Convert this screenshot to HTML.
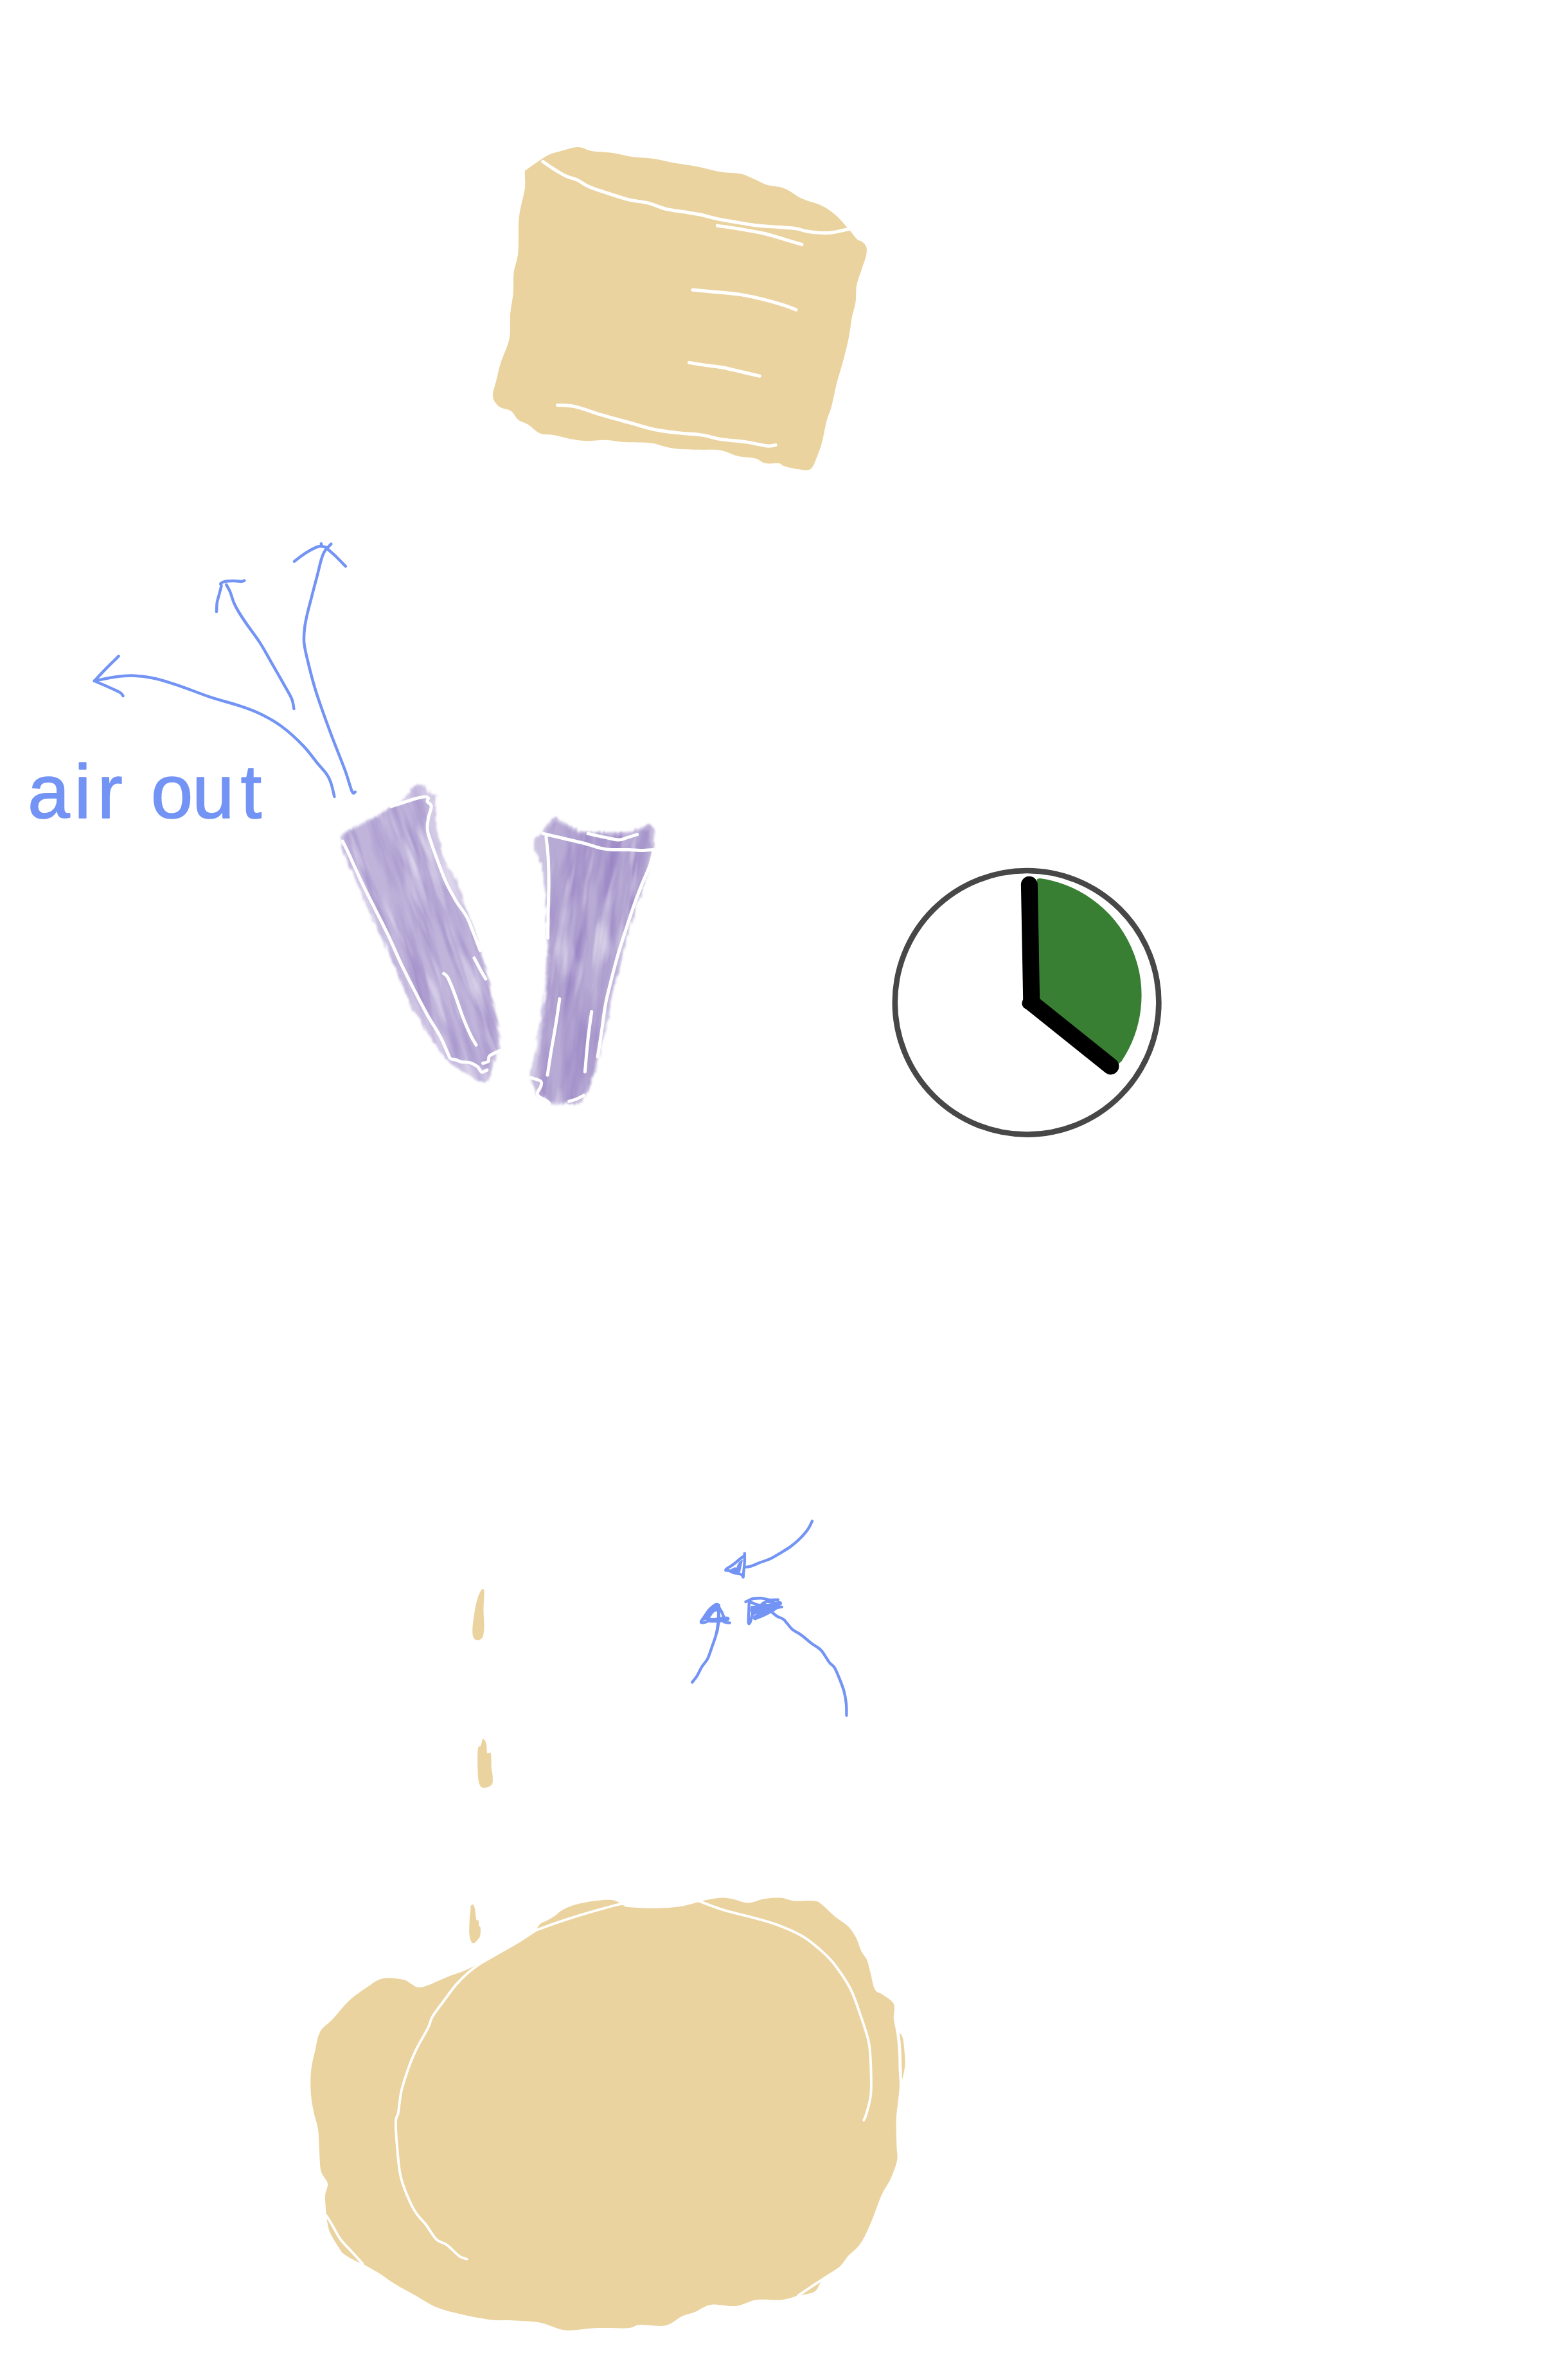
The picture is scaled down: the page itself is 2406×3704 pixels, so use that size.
<!DOCTYPE html>
<html><head><meta charset="utf-8"><title>air out</title>
<style>
html,body{margin:0;padding:0;background:#fff;}
body{width:2406px;height:3704px;overflow:hidden;}
svg{display:block;}
</style></head><body>
<svg width="2406" height="3704" viewBox="0 0 2406 3704">
<defs>
<filter id="wcL" x="-15%" y="-10%" width="130%" height="120%" color-interpolation-filters="sRGB">
<feTurbulence type="fractalNoise" baseFrequency="0.045 0.007" numOctaves="3" seed="4" result="n"/>
<feTurbulence type="fractalNoise" baseFrequency="0.35 0.05" numOctaves="2" seed="9" result="n2"/>
<feDisplacementMap in="SourceGraphic" in2="n2" scale="9" xChannelSelector="R" yChannelSelector="G" result="d"/>
<feGaussianBlur in="d" stdDeviation="1.6" result="b"/>
<feColorMatrix in="n" type="matrix" values="0 0 0 0 0.58  0 0 0 0 0.5  0 0 0 0 0.76  1.5 0 0 0 -0.55" result="dk"/>
<feComposite in="dk" in2="b" operator="in" result="dk2"/>
<feColorMatrix in="n" type="matrix" values="0 0 0 0 1  0 0 0 0 1  0 0 0 0 1  0 -1.8 0 0 0.85" result="lt"/>
<feComposite in="lt" in2="b" operator="in" result="lt2"/>
<feMerge><feMergeNode in="b"/><feMergeNode in="dk2"/><feMergeNode in="lt2"/></feMerge>
</filter>
<filter id="wcR" x="-15%" y="-10%" width="130%" height="120%" color-interpolation-filters="sRGB">
<feTurbulence type="fractalNoise" baseFrequency="0.045 0.007" numOctaves="3" seed="11" result="n"/>
<feTurbulence type="fractalNoise" baseFrequency="0.35 0.05" numOctaves="2" seed="5" result="n2"/>
<feDisplacementMap in="SourceGraphic" in2="n2" scale="9" xChannelSelector="R" yChannelSelector="G" result="d"/>
<feGaussianBlur in="d" stdDeviation="1.6" result="b"/>
<feColorMatrix in="n" type="matrix" values="0 0 0 0 0.56  0 0 0 0 0.47  0 0 0 0 0.75  1.5 0 0 0 -0.55" result="dk"/>
<feComposite in="dk" in2="b" operator="in" result="dk2"/>
<feColorMatrix in="n" type="matrix" values="0 0 0 0 1  0 0 0 0 1  0 0 0 0 1  0 -1.8 0 0 0.85" result="lt"/>
<feComposite in="lt" in2="b" operator="in" result="lt2"/>
<feMerge><feMergeNode in="b"/><feMergeNode in="dk2"/><feMergeNode in="lt2"/></feMerge>
</filter>
</defs>
<path d="M820.0,263.8 C823.2,261.1 830.2,256.2 835.8,252.4 C841.5,248.7 847.9,244.0 853.9,241.1 C860.0,238.3 864.5,237.3 872.1,235.2 C879.6,233.2 890.9,228.9 899.2,228.9 C907.5,228.9 912.8,233.7 921.9,235.2 C930.9,236.7 943.0,236.4 953.6,238.0 C964.1,239.5 974.7,242.8 985.3,244.3 C995.8,245.8 1006.4,245.5 1016.9,247.0 C1027.5,248.5 1037.3,251.3 1048.6,253.4 C1060.0,255.4 1072.8,256.9 1084.9,259.2 C1096.9,261.6 1109.8,265.5 1121.1,267.4 C1132.4,269.3 1143.7,268.5 1152.8,270.6 C1161.8,272.6 1168.6,276.7 1175.4,279.6 C1182.2,282.5 1186.0,285.5 1193.5,287.8 C1201.1,290.0 1211.6,289.6 1220.7,293.2 C1229.8,296.7 1238.1,304.5 1247.9,309.0 C1257.7,313.6 1270.5,315.8 1279.6,320.4 C1288.6,324.9 1295.0,329.8 1302.2,336.2 C1309.4,342.6 1317.3,352.8 1322.6,358.8 C1327.9,364.9 1330.9,369.6 1333.9,372.4 C1336.9,375.2 1338.3,373.6 1340.7,375.6 C1343.1,377.6 1347.3,380.7 1348.4,384.7 C1349.5,388.7 1348.8,393.7 1347.5,399.6 C1346.2,405.5 1343.1,412.4 1340.7,420.0 C1338.3,427.5 1334.5,436.6 1333.0,444.9 C1331.5,453.2 1332.8,461.5 1331.6,469.8 C1330.4,478.1 1327.6,484.9 1325.7,494.7 C1323.9,504.5 1322.7,516.9 1320.3,528.6 C1317.9,540.3 1314.3,553.5 1311.3,564.9 C1308.2,576.2 1305.1,585.2 1302.2,596.6 C1299.3,607.9 1296.7,623.0 1294.0,632.8 C1291.4,642.6 1288.8,646.4 1286.4,655.4 C1283.9,664.5 1281.8,678.4 1279.6,687.1 C1277.3,695.8 1275.8,700.3 1272.8,707.5 C1269.7,714.7 1266.7,726.4 1261.4,730.1 C1256.2,733.9 1247.9,730.9 1241.1,730.1 C1234.3,729.4 1225.6,727.1 1220.7,725.6 C1215.8,724.1 1216.5,721.8 1211.6,721.1 C1206.7,720.3 1197.3,722.4 1191.3,721.1 C1185.2,719.8 1182.6,715.3 1175.4,713.4 C1168.3,711.5 1157.3,711.9 1148.3,709.8 C1139.2,707.6 1130.9,702.4 1121.1,700.7 C1111.3,699.0 1100.7,700.2 1089.4,699.8 C1078.1,699.4 1063.0,699.4 1053.2,698.4 C1043.4,697.5 1037.3,695.4 1030.5,693.9 C1023.7,692.4 1022.2,690.4 1012.4,689.4 C1002.6,688.4 983.0,688.8 971.7,688.0 C960.3,687.3 954.3,685.2 944.5,684.9 C934.7,684.5 921.9,686.4 912.8,686.2 C903.8,686.0 898.5,685.0 890.2,683.5 C881.9,682.0 871.3,678.7 863.0,677.2 C854.7,675.6 847.2,677.2 840.4,674.4 C833.6,671.7 827.9,664.4 822.3,660.9 C816.6,657.3 810.9,656.7 806.4,653.2 C801.9,649.6 800.0,643.0 795.1,639.6 C790.2,636.2 781.7,636.6 777.0,632.8 C772.3,629.0 767.8,623.7 767.0,616.9 C766.3,610.1 770.4,600.7 772.4,592.0 C774.5,583.4 775.8,575.8 779.2,564.9 C782.6,553.9 790.3,539.2 792.8,526.4 C795.3,513.5 793.2,499.6 794.2,487.9 C795.2,476.2 797.8,466.8 798.7,456.2 C799.6,445.6 798.3,435.1 799.6,424.5 C800.9,413.9 805.0,407.1 806.4,392.8 C807.8,378.5 806.0,355.1 807.8,338.5 C809.5,321.9 815.3,304.9 816.8,293.2 C818.3,281.5 816.3,273.2 816.8,268.3 C817.3,263.4 816.8,266.4 820.0,263.8Z" fill="#EBD39F"/>
<g fill="none" stroke="#fff" stroke-width="5.2" stroke-linecap="round" stroke-linejoin="round">
<path d="M844.9,251.5 C847.9,253.6 857.0,260.0 863.0,263.8 C869.0,267.5 875.1,271.4 881.1,274.2 C887.1,277.0 893.2,277.7 899.2,280.5 C905.3,283.3 908.3,287.2 917.3,290.9 C926.4,294.7 943.0,299.8 953.6,303.2 C964.1,306.6 971.7,309.2 980.7,311.3 C989.8,313.4 998.8,313.6 1007.9,315.8 C1016.9,318.1 1026.0,322.6 1035.1,324.9 C1044.1,327.2 1053.2,327.9 1062.2,329.4 C1071.3,330.9 1080.3,332.1 1089.4,333.9 C1098.4,335.8 1106.7,338.7 1116.6,340.7 C1126.4,342.8 1137.7,344.4 1148.3,346.2 C1158.8,347.9 1169.4,349.9 1179.9,351.2 C1190.5,352.4 1201.8,352.7 1211.6,353.4 C1221.5,354.2 1231.3,354.5 1238.8,355.7 C1246.4,356.8 1248.6,359.1 1256.9,360.2 C1265.2,361.3 1278.1,363.1 1288.6,362.5 C1299.2,361.9 1315.0,357.6 1320.3,356.6"/>
<path d="M1116.6,351.2 C1122.6,352.1 1140.7,354.5 1152.8,356.6 C1164.9,358.6 1177.7,360.7 1189.0,363.4 C1200.3,366.0 1210.9,369.6 1220.7,372.4 C1230.5,375.3 1243.3,379.2 1247.9,380.6"/>
<path d="M1078.1,451.2 C1083.0,451.7 1095.1,452.7 1107.5,453.9 C1120.0,455.1 1139.2,456.4 1152.8,458.5 C1166.4,460.5 1177.7,463.4 1189.0,466.2 C1200.3,468.9 1212.4,472.6 1220.7,475.2 C1229.0,477.9 1235.8,480.9 1238.8,482.0"/>
<path d="M1072.6,564.4 C1076.9,565.1 1089.6,567.2 1098.4,568.5 C1107.3,569.8 1116.6,570.4 1125.6,572.1 C1134.7,573.8 1143.3,576.3 1152.8,578.4 C1162.2,580.6 1177.3,584.1 1182.2,585.2"/>
<path d="M867.5,630.5 C872.1,630.9 883.4,630.3 894.7,632.8 C906.0,635.3 921.1,641.2 935.4,645.5 C949.8,649.7 967.1,654.4 980.7,658.1 C994.3,661.9 1004.9,665.5 1016.9,668.1 C1029.0,670.7 1040.3,672.0 1053.2,673.5 C1066.0,675.0 1082.6,675.5 1093.9,677.2 C1105.2,678.8 1109.8,681.7 1121.1,683.5 C1132.4,685.3 1149.8,686.3 1161.8,688.0 C1173.9,689.8 1186.0,693.2 1193.5,693.9 C1201.1,694.7 1204.9,692.8 1207.1,692.5"/>
</g>
<g fill="none" stroke="#7394F4" stroke-width="4.5" stroke-linecap="round" stroke-linejoin="round">
<path d="M520.4,1239.8 C519.6,1236.6 517.5,1226.1 515.6,1220.4 C513.7,1214.8 512.9,1211.5 509.1,1205.9 C505.3,1200.2 499.1,1194.0 492.9,1186.5 C486.8,1178.9 480.8,1169.8 471.9,1160.6 C463.0,1151.4 450.4,1139.6 439.6,1131.5 C428.8,1123.4 418.0,1117.5 407.2,1112.1 C396.5,1106.7 388.4,1103.7 374.9,1099.2 C361.4,1094.6 342.6,1090.0 326.4,1084.6 C310.2,1079.2 292.4,1071.7 277.9,1066.8 C263.3,1062.0 250.9,1058.0 239.1,1055.5 C227.2,1053.0 216.4,1052.0 206.7,1051.6 C197.0,1051.2 190.8,1051.9 180.9,1053.2 C170.9,1054.6 152.6,1058.6 146.9,1059.7"/>
<path d="M184.7,1021.2 C181.4,1024.5 171.0,1034.5 164.7,1040.9 C158.4,1047.4 149.9,1056.6 146.9,1059.7"/>
<path d="M146.9,1059.7 C151.5,1061.7 167.6,1068.6 174.4,1071.7 C181.1,1074.7 184.5,1076.3 187.3,1078.1 C190.2,1080.0 190.8,1082.2 191.5,1083.0"/>
<path d="M457.4,1103.0 C456.8,1100.5 456.6,1093.9 454.1,1087.8 C451.7,1081.8 447.9,1076.0 442.8,1066.8 C437.7,1057.7 429.8,1044.0 423.4,1032.9 C417.0,1021.7 410.9,1010.1 404.3,999.9 C397.8,989.6 389.6,979.5 384.0,971.4 C378.4,963.3 374.0,956.6 370.7,951.0 C367.4,945.4 366.0,942.8 363.9,937.8 C361.8,932.8 360.0,925.6 358.1,921.0 C356.1,916.3 353.2,911.8 352.3,910.0"/>
<path d="M337.0,952.0 C337.1,949.6 337.1,942.4 337.8,937.8 C338.6,933.1 340.2,928.6 341.3,924.2 C342.4,919.8 344.1,914.2 344.5,911.6 C344.9,908.9 342.4,909.5 343.4,908.3 C344.4,907.2 347.0,905.6 350.5,904.9 C353.9,904.2 359.7,904.1 363.9,904.1 C368.1,904.1 372.9,905.0 375.7,904.9 C378.4,904.8 379.6,903.8 380.4,903.6"/>
<path d="M552.8,1232.4 C552.0,1232.3 550.6,1237.5 547.9,1231.8 C545.2,1226.0 542.3,1213.2 536.6,1197.8 C531.0,1182.4 521.5,1160.1 514.0,1139.6 C506.4,1119.1 497.3,1093.8 491.3,1074.9 C485.4,1056.0 481.4,1038.9 478.4,1026.4 C475.4,1013.9 473.9,1008.2 473.2,999.9 C472.5,991.5 473.3,983.8 474.2,976.3 C475.1,968.7 476.6,962.4 478.4,954.6 C480.2,946.8 482.4,938.9 484.9,929.4 C487.3,919.8 490.7,907.2 493.3,897.3 C495.8,887.5 498.2,876.8 500.1,870.5 C501.9,864.2 502.6,862.6 504.3,859.5 C505.9,856.4 508.3,854.2 510.1,852.1 C511.9,849.9 514.4,847.5 515.3,846.6"/>
<path d="M458.0,873.7 C460.8,871.6 469.2,864.8 474.8,861.1 C480.4,857.5 487.6,853.8 491.7,851.9 C495.7,850.1 496.6,849.9 499.3,849.9 C502.0,849.9 506.3,851.6 507.7,851.9"/>
<path d="M507.7,852.7 C510.1,854.8 517.0,860.6 522.1,865.3 C527.1,870.1 535.3,878.7 537.9,881.4"/>
<path d="M499.8,846.1 L501.0,850.3"/>
</g>
<text x="42.9 115.6 151.5 205 234.8 299 374.6" y="1273" font-family="'Liberation Sans', sans-serif" font-size="118" fill="#7394F4" stroke="#7394F4" stroke-width="1.6" stroke-linejoin="round">air out</text>
<g transform="rotate(-18.6)" filter="url(#wcL)">
<path d="M93.7,1399.6 C100.2,1396.6 113.3,1396.2 124.3,1394.4 C135.2,1392.5 147.2,1391.0 159.5,1388.5 C171.8,1386.0 189.6,1382.4 198.0,1379.3 C206.4,1376.2 204.5,1372.3 210.0,1370.1 C215.6,1367.9 226.6,1364.6 231.3,1366.1 C235.9,1367.7 235.5,1375.7 237.9,1379.4 C240.3,1383.2 245.1,1384.4 245.8,1388.8 C246.6,1393.1 244.4,1398.6 242.5,1405.4 C240.6,1412.1 236.3,1420.3 234.4,1429.2 C232.5,1438.2 231.9,1447.6 231.0,1459.1 C230.1,1470.6 227.9,1486.9 228.9,1498.3 C229.9,1509.7 235.7,1517.6 236.8,1527.6 C237.9,1537.5 235.2,1547.7 235.4,1558.1 C235.6,1568.5 237.6,1578.8 237.9,1590.0 C238.2,1601.2 237.8,1611.4 237.2,1625.2 C236.6,1639.0 235.4,1657.9 234.4,1673.0 C233.3,1688.2 232.5,1701.2 230.9,1716.2 C229.4,1731.2 227.3,1750.1 225.2,1763.0 C223.0,1775.9 220.8,1787.4 218.1,1793.9 C215.4,1800.3 212.4,1797.5 208.8,1801.8 C205.1,1806.1 200.2,1814.1 196.1,1819.7 C192.0,1825.3 188.2,1833.3 184.1,1835.6 C180.0,1837.9 176.2,1837.0 171.5,1833.6 C166.7,1830.1 161.7,1822.2 155.6,1814.9 C149.5,1807.7 140.7,1801.1 135.1,1790.3 C129.5,1779.6 126.3,1765.9 121.9,1750.4 C117.5,1734.9 111.8,1716.7 108.8,1697.2 C105.7,1677.7 105.4,1652.5 103.6,1633.5 C101.9,1614.4 100.4,1601.3 98.5,1583.0 C96.5,1564.6 93.8,1541.9 92.0,1523.2 C90.2,1504.4 88.8,1486.6 87.5,1470.7 C86.2,1454.7 84.7,1437.2 84.3,1427.5 C83.9,1417.7 83.4,1416.8 85.0,1412.2 C86.6,1407.6 87.1,1402.6 93.7,1399.6Z" fill="#C0B4DB" fill-opacity="0.7"/>
<path d="M93.3,1403.9 C100.7,1397.5 121.1,1398.7 134.9,1395.7 C148.6,1392.8 162.6,1388.1 175.8,1386.2 C188.9,1384.4 204.3,1384.2 214.0,1384.7 C223.6,1385.1 230.1,1386.1 233.5,1389.1 C237.0,1392.1 236.0,1397.3 234.5,1402.7 C232.9,1408.1 226.8,1415.2 224.2,1421.4 C221.6,1427.5 219.6,1431.7 218.8,1439.5 C217.9,1447.3 219.0,1456.9 219.0,1468.4 C219.0,1479.8 218.1,1495.4 218.9,1508.2 C219.8,1521.1 222.2,1533.7 224.1,1545.5 C226.1,1557.2 229.0,1567.1 230.7,1578.7 C232.3,1590.3 233.4,1602.5 233.9,1615.2 C234.4,1628.0 234.4,1641.2 233.8,1655.1 C233.2,1668.9 231.6,1683.9 230.3,1698.2 C229.0,1712.6 227.8,1727.7 225.9,1741.1 C224.0,1754.5 221.1,1769.4 218.8,1778.6 C216.4,1787.8 215.3,1792.2 211.8,1796.2 C208.2,1800.1 201.5,1798.6 197.5,1802.4 C193.4,1806.2 191.2,1817.7 187.5,1819.0 C183.7,1820.3 179.0,1813.6 174.9,1810.3 C170.8,1807.1 167.7,1803.1 162.9,1799.7 C158.2,1796.2 150.4,1792.9 146.4,1789.7 C142.3,1786.5 140.4,1787.7 138.4,1780.4 C136.4,1773.0 136.5,1757.5 134.5,1745.8 C132.6,1734.1 129.2,1723.3 126.7,1709.9 C124.2,1696.5 121.8,1680.6 119.5,1665.4 C117.2,1650.2 114.8,1634.3 113.0,1618.9 C111.1,1603.5 110.3,1588.4 108.5,1573.0 C106.6,1557.6 104.1,1542.0 102.0,1526.5 C99.8,1511.0 97.3,1495.4 95.4,1480.0 C93.6,1464.6 91.3,1446.8 90.9,1434.1 C90.6,1421.5 86.0,1410.3 93.3,1403.9Z" fill="#C0B4DB"/>
</g>
<g transform="rotate(7.4)" filter="url(#wcR)">
<path d="M993.6,1189.7 C995.0,1185.6 1000.7,1181.2 1003.5,1176.8 C1006.3,1172.3 1007.6,1167.4 1010.2,1163.2 C1012.9,1159.0 1016.0,1152.9 1019.3,1151.4 C1022.6,1149.9 1025.4,1152.6 1030.3,1154.2 C1035.1,1155.9 1041.5,1159.3 1048.1,1161.4 C1054.8,1163.6 1061.5,1166.8 1070.0,1167.1 C1078.6,1167.4 1089.5,1164.5 1099.2,1163.3 C1108.9,1162.0 1120.1,1161.3 1128.4,1159.5 C1136.6,1157.7 1143.7,1154.9 1148.7,1152.6 C1153.7,1150.4 1155.4,1147.7 1158.4,1146.1 C1161.4,1144.4 1163.7,1141.8 1166.5,1142.9 C1169.2,1143.9 1173.1,1147.7 1175.1,1152.4 C1177.1,1157.0 1178.2,1165.0 1178.6,1171.0 C1179.0,1176.9 1177.9,1182.4 1177.6,1188.0 C1177.3,1193.7 1177.7,1197.9 1176.7,1205.1 C1175.6,1212.3 1173.3,1222.5 1171.6,1231.2 C1169.9,1239.9 1168.1,1248.2 1166.5,1257.3 C1164.8,1266.3 1163.3,1276.0 1161.7,1285.4 C1160.1,1294.8 1158.4,1303.9 1156.9,1313.6 C1155.3,1323.3 1153.3,1335.2 1152.3,1343.8 C1151.3,1352.4 1151.9,1356.6 1150.9,1365.2 C1149.9,1373.8 1147.5,1385.4 1146.3,1395.4 C1145.1,1405.5 1144.4,1416.2 1143.8,1425.4 C1143.3,1434.7 1143.6,1442.4 1142.9,1451.0 C1142.3,1459.5 1140.9,1467.8 1139.9,1476.8 C1139.0,1485.7 1138.2,1496.0 1137.2,1504.7 C1136.2,1513.3 1135.1,1520.8 1133.9,1528.4 C1132.8,1535.9 1131.9,1543.1 1130.4,1550.0 C1128.8,1556.9 1126.6,1564.3 1124.5,1569.8 C1122.4,1575.4 1120.5,1580.2 1117.8,1583.4 C1115.0,1586.6 1112.0,1587.9 1107.9,1588.9 C1103.8,1590.0 1098.4,1588.9 1093.2,1589.8 C1088.0,1590.6 1081.8,1594.3 1076.8,1594.0 C1071.8,1593.8 1067.8,1590.1 1063.3,1588.4 C1058.9,1586.7 1054.0,1586.8 1050.0,1583.8 C1046.1,1580.7 1042.4,1575.2 1039.8,1570.3 C1037.2,1565.3 1035.3,1560.2 1034.5,1554.0 C1033.7,1547.7 1034.5,1541.3 1034.9,1532.8 C1035.4,1524.2 1036.8,1514.2 1037.4,1502.8 C1038.0,1491.4 1038.4,1477.9 1038.8,1464.5 C1039.1,1451.0 1040.0,1436.1 1039.6,1422.0 C1039.2,1407.9 1037.4,1394.1 1036.3,1380.1 C1035.2,1366.1 1034.6,1352.1 1033.0,1338.2 C1031.3,1324.2 1028.8,1308.7 1026.5,1296.6 C1024.2,1284.6 1021.7,1276.1 1019.3,1265.8 C1016.9,1255.5 1015.0,1243.4 1012.1,1234.9 C1009.3,1226.5 1005.0,1220.7 1002.1,1215.1 C999.3,1209.4 996.5,1205.4 995.0,1201.2 C993.6,1196.9 992.1,1193.8 993.6,1189.7Z" fill="#B7AAD4" fill-opacity="0.7"/>
<path d="M1010.3,1180.1 C1010.7,1170.9 1016.7,1161.3 1020.1,1157.7 C1023.5,1154.0 1026.0,1157.1 1030.8,1158.4 C1035.6,1159.7 1042.0,1163.5 1048.7,1165.6 C1055.3,1167.7 1062.1,1170.7 1070.6,1171.2 C1079.1,1171.7 1090.1,1169.6 1099.9,1168.5 C1109.6,1167.4 1120.8,1166.6 1129.0,1164.7 C1137.3,1162.7 1143.1,1159.0 1149.2,1156.8 C1155.3,1154.6 1160.9,1147.5 1165.5,1151.5 C1170.0,1155.5 1175.0,1171.8 1176.7,1180.8 C1178.4,1189.7 1177.1,1196.1 1175.6,1205.2 C1174.2,1214.4 1170.6,1225.0 1167.9,1235.9 C1165.3,1246.8 1162.4,1258.5 1159.8,1270.8 C1157.1,1283.2 1154.6,1296.6 1152.1,1310.0 C1149.7,1323.3 1146.9,1337.5 1144.8,1351.2 C1142.7,1364.8 1141.0,1379.2 1139.5,1392.1 C1138.0,1405.0 1136.5,1415.1 1135.8,1428.6 C1135.1,1442.1 1135.8,1458.6 1135.2,1473.1 C1134.6,1487.7 1133.7,1502.3 1132.3,1515.9 C1130.9,1529.5 1129.3,1544.5 1126.7,1554.7 C1124.2,1564.9 1121.6,1572.2 1117.0,1577.2 C1112.3,1582.2 1105.7,1582.7 1098.9,1584.8 C1092.1,1586.9 1082.6,1589.9 1076.2,1589.9 C1069.9,1589.8 1064.7,1588.0 1060.7,1584.5 C1056.7,1580.9 1054.7,1573.6 1052.3,1568.6 C1049.9,1563.6 1047.7,1563.2 1046.2,1554.6 C1044.8,1546.0 1043.8,1530.2 1043.5,1516.8 C1043.1,1503.5 1044.2,1490.2 1044.3,1474.4 C1044.3,1458.5 1044.6,1439.0 1043.8,1421.5 C1042.9,1403.9 1040.8,1386.5 1039.1,1369.1 C1037.4,1351.7 1035.9,1336.0 1033.4,1316.9 C1030.9,1297.8 1026.8,1271.9 1024.2,1254.6 C1021.6,1237.2 1020.1,1225.4 1017.8,1213.0 C1015.5,1200.6 1009.9,1189.3 1010.3,1180.1Z" fill="#B7AAD4"/>
</g>
<g fill="none" stroke="#fff" stroke-width="5" stroke-linecap="round" stroke-linejoin="round">
<path d="M608.7,1255.0 C614.7,1253.1 635.9,1246.0 644.4,1243.5 C653.0,1241.0 656.5,1240.2 660.2,1239.9 C663.9,1239.7 665.7,1240.8 666.5,1242.0 C667.3,1243.2 664.2,1245.1 665.0,1247.3 C665.8,1249.4 671.1,1250.7 671.3,1255.0 C671.6,1259.4 667.5,1267.3 666.5,1273.5 C665.5,1279.7 664.6,1285.8 665.4,1292.4 C666.3,1299.1 668.9,1305.0 671.7,1313.4 C674.5,1321.8 678.4,1332.7 682.2,1342.8 C686.1,1353.0 690.3,1364.5 694.8,1374.3 C699.4,1384.1 704.3,1392.9 709.5,1401.7 C714.8,1410.4 721.8,1418.5 726.4,1426.9 C730.9,1435.3 733.4,1443.3 736.9,1452.1 C740.4,1460.8 745.6,1474.8 747.4,1479.4"/>
<path d="M737.9,1490.9 C739.5,1493.9 744.4,1503.4 747.4,1508.8 C750.3,1514.2 754.4,1521.0 755.8,1523.5"/>
<path d="M533.1,1309.2 C534.5,1312.0 536.6,1315.5 541.5,1326.0 C546.4,1336.5 555.5,1357.5 562.5,1372.2 C569.5,1386.9 576.5,1400.3 583.5,1414.3 C590.5,1428.3 597.9,1442.3 604.5,1456.3 C611.2,1470.3 616.8,1484.3 623.4,1498.3 C630.1,1512.3 637.4,1526.6 644.4,1540.3 C651.4,1553.9 658.8,1568.3 665.4,1580.2 C672.1,1592.1 679.1,1601.9 684.3,1611.7 C689.6,1621.5 694.1,1633.1 696.9,1639.0 C699.7,1645.0 699.0,1645.7 701.1,1647.4 C703.2,1649.2 706.7,1648.6 709.5,1649.5 C712.4,1650.4 714.5,1652.0 718.0,1652.7 C721.5,1653.4 726.4,1652.5 730.6,1653.7 C734.8,1654.9 740.0,1657.6 743.2,1660.0 C746.3,1662.5 747.0,1667.5 749.5,1668.4 C751.9,1669.3 756.5,1665.8 757.9,1665.3"/>
<path d="M751.6,1654.8 C753.0,1654.2 758.2,1653.5 760.0,1651.6 C761.7,1649.7 758.9,1646.0 762.1,1643.2 C765.2,1640.4 776.1,1636.2 778.9,1634.8"/>
<path d="M690.6,1515.1 C691.7,1516.1 694.1,1516.1 696.9,1521.4 C699.7,1526.6 703.6,1536.4 707.4,1546.6 C711.3,1556.7 715.9,1571.4 720.1,1582.3 C724.3,1593.1 729.2,1604.4 732.7,1611.7 C736.2,1619.1 739.7,1624.0 741.1,1626.4"/>
<path d="M844.7,1297.3 C847.6,1298.0 855.0,1299.7 862.5,1301.5 C870.0,1303.2 881.1,1305.7 889.8,1307.8 C898.6,1309.9 907.3,1312.0 915.0,1314.1 C922.7,1316.2 929.7,1319.0 936.0,1320.4 C942.3,1321.8 945.8,1322.1 952.8,1322.5 C959.8,1322.8 970.3,1322.3 978.0,1322.5 C985.7,1322.6 992.6,1323.5 999.0,1323.5 C1005.5,1323.5 1013.9,1322.6 1016.9,1322.5"/>
<path d="M915.0,1297.3 C919.2,1298.2 932.2,1301.3 940.2,1302.9 C948.3,1304.6 957.0,1307.1 963.3,1307.1 C969.6,1307.1 973.3,1304.3 978.0,1302.9 C982.8,1301.5 989.4,1299.4 991.7,1298.7"/>
<path d="M849.9,1302.5 C850.4,1307.8 852.4,1321.8 853.1,1334.0 C853.8,1346.3 854.1,1362.0 854.1,1376.0 C854.1,1390.0 853.3,1404.0 853.1,1418.0 C852.8,1432.0 852.7,1453.0 852.6,1460.0"/>
<path d="M1016.9,1325.6 C1016.0,1329.1 1014.6,1338.2 1011.6,1346.6 C1008.7,1355.0 1003.2,1365.5 999.0,1376.0 C994.8,1386.5 990.6,1397.7 986.4,1409.6 C982.2,1421.5 978.0,1434.5 973.8,1447.4 C969.6,1460.4 965.1,1474.0 961.2,1487.4 C957.4,1500.7 953.9,1514.7 950.7,1527.3 C947.6,1539.9 944.8,1549.7 942.3,1563.0 C939.9,1576.3 938.1,1593.4 936.0,1607.1 C934.0,1620.7 931.1,1638.6 930.1,1644.9"/>
<path d="M870.9,1554.6 C869.9,1561.6 866.9,1582.6 864.6,1596.6 C862.3,1610.6 859.4,1625.8 857.3,1638.6 C855.2,1651.4 852.9,1667.5 852.0,1673.2"/>
<path d="M920.7,1574.5 C919.7,1581.7 916.7,1602.0 915.0,1617.6 C913.3,1633.2 911.2,1659.6 910.4,1668.0"/>
<path d="M826.8,1677.4 C829.3,1678.3 839.1,1680.4 841.5,1682.7 C844.0,1685.0 842.4,1687.6 841.5,1691.1 C840.6,1694.6 834.5,1699.8 836.3,1703.7 C838.0,1707.5 848.9,1711.9 852.0,1714.2 C855.2,1716.5 854.6,1716.8 855.2,1717.4"/>
<path d="M885.6,1714.2 C887.7,1713.5 894.4,1711.6 898.2,1710.0 C902.1,1708.4 907.0,1705.6 908.7,1704.7"/>
</g>
<circle cx="1598.1" cy="1560.3" r="205.3" fill="none" stroke="#474747" stroke-width="8.6"/>
<path d="M1615.5,1369 L1618.6,1368.6 A182.5,182.5 0 0 1 1744.3,1650.6 L1739,1655.5 L1614,1559Z" fill="#387F33" stroke="#387F33" stroke-width="3" stroke-linejoin="round"/>
<path d="M1601.9,1376.8 L1605.3,1560.6 L1728.5,1659.4" fill="none" stroke="#000" stroke-width="26" stroke-linecap="round" stroke-linejoin="round"/>
<circle cx="1600.3" cy="1561.2" r="10" fill="#000"/>
<g fill="none" stroke="#7394F4" stroke-width="4.4" stroke-linecap="round" stroke-linejoin="round">
<path d="M1264.0,2367.2 C1262.9,2369.3 1260.5,2375.5 1257.3,2380.0 C1254.2,2384.6 1249.4,2390.0 1244.9,2394.5 C1240.4,2399.0 1235.6,2403.1 1230.4,2406.9 C1225.3,2410.7 1219.4,2414.0 1213.9,2417.3 C1208.3,2420.6 1202.5,2424.2 1197.3,2426.6 C1192.1,2429.0 1187.6,2429.9 1182.8,2431.8 C1178.0,2433.6 1172.3,2436.4 1168.3,2437.6 C1164.4,2438.8 1160.6,2438.8 1159.0,2439.0"/>
<path d="M1077.3,2618.1 C1078.5,2616.5 1081.9,2612.9 1084.5,2608.7 C1087.1,2604.6 1090.0,2597.7 1092.8,2593.2 C1095.5,2588.7 1098.5,2587.0 1101.1,2581.8 C1103.6,2576.7 1106.1,2568.6 1108.3,2562.2 C1110.5,2555.8 1113.0,2549.8 1114.5,2543.5 C1116.1,2537.3 1117.0,2531.1 1117.6,2524.9 C1118.2,2518.7 1118.2,2510.8 1118.2,2506.3 C1118.2,2501.8 1117.7,2499.4 1117.6,2498.0"/>
<path d="M1317.4,2669.8 C1317.3,2666.7 1317.6,2657.4 1316.9,2651.2 C1316.3,2645.0 1315.3,2638.8 1313.6,2632.5 C1312.0,2626.3 1309.5,2620.1 1307.0,2613.9 C1304.5,2607.7 1301.5,2599.8 1298.7,2595.3 C1296.0,2590.8 1293.9,2591.5 1290.5,2587.0 C1287.0,2582.5 1282.5,2573.2 1278.0,2568.4 C1273.5,2563.6 1268.7,2562.0 1263.5,2558.0 C1258.4,2554.1 1252.2,2548.4 1247.0,2544.6 C1241.8,2540.8 1237.0,2539.2 1232.5,2535.3 C1228.0,2531.3 1223.9,2524.1 1220.1,2520.8 C1216.3,2517.5 1213.2,2517.8 1209.7,2515.6 C1206.3,2513.4 1201.1,2508.7 1199.4,2507.3"/>
<path d="M1158.8,2417.5 C1158.8,2419.4 1158.9,2425.5 1158.8,2429.1 C1158.7,2432.7 1158.4,2435.6 1158.1,2438.8 C1157.8,2442.0 1157.4,2445.9 1157.1,2448.5 C1156.9,2451.1 1156.7,2453.4 1156.6,2454.3"/>
<path d="M1157.6,2421.8 C1156.8,2422.4 1154.7,2423.7 1152.8,2425.2 C1150.8,2426.8 1148.4,2429.1 1146.0,2431.0 C1143.6,2433.0 1140.8,2435.1 1138.2,2436.9 C1135.6,2438.6 1131.9,2440.6 1130.5,2441.7 C1129.0,2442.9 1129.6,2443.3 1129.5,2443.7"/>
<path d="M1129.5,2443.7 C1130.5,2443.8 1133.2,2443.9 1135.3,2444.6 C1137.4,2445.4 1139.7,2447.3 1142.1,2448.0 C1144.5,2448.8 1147.8,2448.4 1149.9,2449.0 C1152.0,2449.6 1153.6,2450.5 1154.7,2451.4 C1155.8,2452.3 1156.2,2453.8 1156.5,2454.3"/>
<path d="M1160.5,2492.9 C1161.7,2492.4 1165.2,2490.6 1167.3,2489.7 C1169.4,2488.9 1170.2,2488.2 1173.1,2487.8 C1176.1,2487.4 1180.9,2487.0 1184.8,2487.3 C1188.7,2487.6 1192.1,2489.3 1196.4,2489.7 C1200.8,2490.2 1208.6,2489.7 1211.0,2489.7"/>
<path d="M1165.9,2493.1 C1165.8,2495.4 1165.5,2501.4 1165.4,2506.7 C1165.2,2512.1 1164.6,2522.1 1164.9,2525.2 C1165.2,2528.2 1166.3,2527.4 1167.3,2525.2 C1168.4,2522.9 1170.6,2513.8 1171.2,2511.6"/>
<path d="M1167.3,2493.1 C1168.9,2493.8 1174.6,2496.2 1177.0,2497.0 C1179.5,2497.9 1181.1,2498.0 1181.9,2498.2"/>
<path d="M1192.5,2492.2 C1194.8,2492.6 1202.6,2494.3 1206.1,2494.6 C1209.7,2494.9 1212.5,2493.9 1213.9,2494.1 C1215.3,2494.4 1215.2,2495.4 1214.4,2496.1 C1213.6,2496.7 1212.8,2497.6 1209.0,2498.0 C1205.2,2498.4 1194.5,2498.2 1191.6,2498.2"/>
<path d="M1216.8,2500.9 C1215.0,2501.1 1209.5,2501.5 1206.1,2501.9 C1202.7,2502.2 1198.0,2502.8 1196.4,2503.0"/>
<path d="M1116.9,2497.0 C1116.1,2497.2 1114.3,2496.5 1112.0,2498.0 C1109.8,2499.5 1105.9,2502.8 1103.3,2505.8 C1100.7,2508.7 1098.5,2512.5 1096.5,2515.5 C1094.5,2518.4 1091.8,2521.5 1091.2,2523.2 C1090.5,2524.9 1091.2,2525.5 1092.6,2525.6 C1094.0,2525.8 1098.3,2524.4 1099.4,2524.2"/>
<path d="M1115.9,2505.8 C1115.1,2505.9 1112.5,2505.9 1111.0,2506.7 C1109.6,2507.5 1108.5,2509.0 1107.2,2510.6 C1105.9,2512.2 1103.9,2515.5 1103.3,2516.4"/>
<path d="M1099.4,2519.3 C1101.0,2519.5 1105.9,2520.3 1109.1,2520.3 C1112.3,2520.3 1115.1,2519.7 1118.8,2519.3 C1122.5,2518.9 1129.1,2517.7 1131.4,2517.9 C1133.8,2518.0 1133.7,2519.6 1132.9,2520.3 C1132.1,2521.0 1130.5,2521.8 1126.6,2522.3 C1122.6,2522.7 1113.3,2523.1 1109.1,2523.2 C1104.9,2523.3 1102.6,2522.8 1101.3,2522.7"/>
<path d="M1126.6,2524.2 C1127.2,2524.4 1128.9,2524.9 1130.5,2525.2 C1132.0,2525.4 1134.9,2525.6 1135.8,2525.6"/>
<path d="M1118.8,2498.0 C1118.8,2499.5 1118.8,2502.8 1118.8,2506.7 C1118.8,2510.6 1119.1,2517.2 1118.8,2521.3 C1118.6,2525.3 1117.8,2527.9 1117.4,2531.0 C1116.9,2534.1 1116.1,2538.5 1115.9,2540.0"/>
<path d="M1119.8,2502.8 C1120.4,2504.0 1122.5,2507.2 1123.7,2509.6 C1124.8,2512.1 1125.9,2515.6 1126.6,2517.4 C1127.2,2519.2 1127.4,2519.8 1127.5,2520.3"/>
<path d="M1137.2,2443.2 L1143.1,2440.0 L1146.9,2440.6 L1148.4,2435.9 L1150.8,2431.5 L1155.2,2428.1 L1151.3,2446.1 L1147.9,2448.0 L1142.1,2447.1Z" fill="#7394F4" stroke-width="1.5"/>
<path d="M1169.3,2499.9 L1180.9,2499.0 L1187.7,2493.1 L1193.5,2492.7 L1189.6,2498.0 L1209.0,2498.2 L1215.8,2500.4 L1211.0,2502.8 L1203.2,2507.7 L1196.4,2511.6 L1186.7,2516.4 L1175.1,2520.8 L1172.2,2519.3 L1173.1,2515.5 L1186.7,2507.7 L1173.1,2512.5 L1170.2,2511.6 L1168.3,2506.7Z" fill="#7394F4" stroke-width="1.5"/>
<path d="M1112.0,2498.0 L1116.9,2497.0 L1115.9,2505.8 L1111.0,2506.7 L1107.2,2510.6 L1103.3,2516.4 L1099.4,2519.3 L1091.2,2523.2 L1096.5,2515.5 L1103.3,2505.8Z" fill="#7394F4" stroke-width="1.5"/>
</g>
<path d="M750.9,2473.4 C751.9,2473.4 753.3,2471.2 753.5,2476.5 C753.8,2481.8 752.5,2496.1 752.5,2505.2 C752.5,2514.3 753.8,2524.1 753.5,2531.2 C753.3,2538.4 752.7,2544.6 750.9,2548.2 C749.1,2551.8 744.9,2552.6 742.6,2552.6 C740.2,2552.6 738.1,2550.9 736.8,2548.2 C735.6,2545.5 735.1,2542.3 735.3,2536.5 C735.4,2530.6 736.7,2520.8 737.9,2513.0 C739.1,2505.2 740.9,2495.6 742.6,2489.5 C744.2,2483.5 746.4,2479.2 747.8,2476.5 C749.2,2473.8 750.0,2473.4 750.9,2473.4Z" fill="#EBD39F"/>
<path d="M751.7,2705.9 C753.1,2705.5 755.8,2710.0 756.9,2713.7 C758.0,2717.4 757.0,2725.6 758.2,2728.1 C759.4,2730.6 762.9,2725.2 763.9,2728.9 C765.0,2732.6 764.3,2744.5 764.7,2750.2 C765.2,2756.0 766.3,2758.9 766.6,2763.3 C766.8,2767.6 767.4,2773.3 766.0,2776.3 C764.6,2779.4 760.8,2780.6 758.2,2781.5 C755.6,2782.5 752.6,2783.4 750.4,2782.0 C748.2,2780.7 746.4,2778.6 745.2,2773.7 C744.0,2768.8 743.6,2761.5 743.4,2752.8 C743.1,2744.2 743.0,2727.6 743.9,2721.6 C744.7,2715.5 747.0,2719.0 748.3,2716.4 C749.6,2713.7 750.3,2706.4 751.7,2705.9Z" fill="#EBD39F"/>
<path d="M735.5,2963.8 C736.6,2964.2 738.0,2966.1 739.0,2970.1 C739.9,2974.0 740.3,2984.4 741.3,2987.5 C742.3,2990.6 744.1,2987.1 744.8,2988.7 C745.4,2990.2 744.7,2994.9 745.3,2996.8 C745.8,2998.8 747.5,2997.6 747.8,3000.3 C748.1,3003.1 748.0,3009.8 747.1,3013.1 C746.2,3016.4 744.1,3018.3 742.5,3020.1 C740.8,3022.0 738.9,3024.1 737.3,3024.3 C735.8,3024.5 734.3,3023.9 733.1,3021.3 C732.0,3018.7 730.7,3014.1 730.3,3008.5 C730.0,3002.9 730.5,2993.9 730.8,2987.5 C731.2,2981.1 732.3,2973.4 732.4,2970.1 C732.6,2966.8 731.5,2968.8 732.0,2967.7 C732.5,2966.7 734.3,2963.4 735.5,2963.8Z" fill="#EBD39F"/>
<path d="M595.2,3079.2 C604.9,3077.0 620.1,3079.7 627.6,3081.1 C635.0,3082.5 636.2,3085.6 639.9,3087.6 C643.5,3089.5 645.7,3092.2 649.6,3092.8 C653.5,3093.3 655.1,3093.6 663.2,3090.8 C671.2,3088.0 688.4,3079.8 698.1,3075.9 C707.8,3072.1 713.4,3070.9 721.4,3067.5 C729.3,3064.2 738.2,3060.0 746.0,3055.9 C753.7,3051.8 758.5,3048.4 767.9,3042.9 C777.4,3037.5 792.4,3028.9 802.9,3022.9 C813.3,3016.9 824.4,3011.5 830.7,3006.7 C836.9,3002.0 836.8,2997.5 840.4,2994.4 C843.9,2991.4 848.2,2990.8 852.0,2988.6 C855.9,2986.5 859.8,2984.2 863.7,2981.5 C867.6,2978.8 869.9,2975.4 875.3,2972.4 C880.7,2969.5 887.5,2966.4 896.0,2964.0 C904.5,2961.7 917.0,2959.4 926.4,2958.2 C935.8,2957.0 945.5,2956.2 952.3,2956.9 C959.1,2957.7 963.1,2961.2 967.2,2962.7 C971.3,2964.3 967.7,2965.1 976.9,2966.0 C986.0,2966.8 1008.1,2968.1 1022.1,2967.9 C1036.2,2967.7 1049.1,2966.3 1061.0,2964.7 C1072.8,2963.1 1083.6,2960.0 1093.3,2958.2 C1103.0,2956.4 1111.6,2954.2 1119.2,2953.7 C1126.7,2953.1 1131.0,2953.7 1138.6,2955.0 C1146.1,2956.3 1155.8,2961.4 1164.5,2961.4 C1173.1,2961.4 1181.7,2956.3 1190.3,2955.0 C1198.9,2953.7 1208.7,2953.1 1216.2,2953.7 C1223.7,2954.2 1227.2,2957.5 1235.6,2958.2 C1244.0,2959.0 1259.4,2957.2 1266.6,2958.2 C1273.9,2959.2 1273.3,2959.8 1278.9,2964.0 C1284.5,2968.2 1293.5,2977.8 1300.3,2983.4 C1307.1,2989.0 1314.4,2992.4 1319.7,2997.7 C1325.0,3003.0 1328.5,3008.7 1332.0,3015.1 C1335.4,3021.6 1337.5,3030.6 1340.4,3036.5 C1343.3,3042.4 1347.1,3045.1 1349.4,3050.7 C1351.8,3056.3 1352.6,3062.5 1354.6,3070.1 C1356.7,3077.8 1358.5,3090.9 1361.7,3096.6 C1365.0,3102.4 1369.2,3100.7 1374.0,3104.4 C1378.9,3108.1 1388.0,3112.6 1390.8,3118.6 C1393.6,3124.7 1390.4,3134.5 1390.8,3140.6 C1391.3,3146.8 1392.6,3150.3 1393.4,3155.5 C1394.3,3160.7 1395.3,3165.0 1396.0,3171.7 C1396.8,3178.4 1397.5,3187.5 1398.0,3195.6 C1398.4,3203.7 1398.3,3211.7 1398.6,3220.2 C1398.9,3228.7 1400.1,3237.9 1399.9,3246.7 C1399.7,3255.5 1398.2,3264.4 1397.3,3273.2 C1396.4,3282.1 1395.0,3288.6 1394.7,3299.7 C1394.4,3310.8 1395.2,3329.4 1395.4,3339.8 C1395.6,3350.3 1397.6,3353.9 1396.0,3362.5 C1394.4,3371.1 1389.8,3382.4 1385.7,3391.6 C1381.6,3400.8 1376.5,3406.1 1371.4,3417.5 C1366.4,3428.8 1360.7,3447.1 1355.3,3459.5 C1349.9,3471.9 1345.0,3483.2 1339.1,3491.8 C1333.2,3500.5 1325.1,3505.3 1319.7,3511.3 C1314.3,3517.2 1313.2,3521.5 1306.8,3527.4 C1300.3,3533.4 1287.3,3540.4 1280.9,3546.8 C1274.4,3553.3 1274.4,3561.9 1267.9,3566.2 C1261.5,3570.5 1250.7,3570.5 1242.1,3572.7 C1233.4,3574.9 1227.0,3578.1 1216.2,3579.2 C1205.4,3580.3 1189.2,3577.6 1177.4,3579.2 C1165.5,3580.8 1156.9,3587.6 1145.0,3588.9 C1133.2,3590.2 1117.0,3585.3 1106.2,3586.9 C1095.5,3588.6 1087.9,3595.6 1080.4,3598.6 C1072.8,3601.6 1068.5,3601.6 1061.0,3605.0 C1053.4,3608.5 1045.9,3617.1 1035.1,3619.3 C1024.3,3621.4 1006.0,3617.3 996.3,3618.0 C986.6,3618.6 988.7,3622.3 976.9,3623.2 C965.0,3624.0 941.3,3622.6 925.1,3623.2 C909.0,3623.7 893.9,3627.8 879.8,3626.4 C865.8,3625.0 854.0,3617.2 841.0,3614.7 C828.1,3612.3 815.2,3612.3 802.2,3611.5 C789.3,3610.8 777.4,3611.8 763.4,3610.2 C749.4,3608.6 732.2,3605.0 718.1,3601.8 C704.1,3598.6 691.2,3595.7 679.3,3590.8 C667.5,3586.0 657.8,3578.7 647.0,3572.7 C636.2,3566.7 624.3,3560.5 614.6,3554.6 C604.9,3548.7 596.9,3542.2 588.8,3537.1 C580.7,3532.1 571.8,3527.2 566.1,3524.2 C560.4,3521.2 559.7,3522.0 554.5,3519.3 C549.3,3516.6 539.5,3511.4 535.1,3508.0 C530.7,3504.6 531.4,3504.2 528.0,3499.0 C524.5,3493.7 517.4,3482.7 514.4,3476.3 C511.4,3470.0 510.9,3465.8 509.9,3460.8 C508.8,3455.8 508.6,3453.8 507.9,3446.6 C507.3,3439.3 505.7,3425.5 506.0,3417.5 C506.3,3409.4 510.9,3404.5 509.9,3398.1 C508.8,3391.6 501.7,3387.3 499.5,3378.7 C497.4,3370.0 497.7,3357.1 496.9,3346.3 C496.2,3335.5 496.4,3323.7 495.0,3314.0 C493.6,3304.3 490.3,3297.3 488.5,3288.1 C486.7,3278.9 484.7,3269.8 484.0,3259.0 C483.2,3248.2 482.9,3234.7 484.0,3223.4 C485.1,3212.1 488.1,3201.3 490.5,3191.1 C492.8,3180.8 493.7,3170.1 498.2,3162.0 C502.7,3153.9 510.1,3150.6 517.6,3142.6 C525.2,3134.5 534.9,3121.5 543.5,3113.5 C552.1,3105.4 560.7,3099.8 569.4,3094.0 C578.0,3088.3 585.5,3081.3 595.2,3079.2Z" fill="#EBD39F"/>
<path d="M1400.2,3164.6 C1400.8,3163.9 1403.8,3167.5 1405.1,3172.3 C1406.3,3177.2 1407.1,3186.9 1407.7,3193.7 C1408.2,3200.5 1409.1,3206.0 1408.6,3213.1 C1408.0,3220.1 1405.0,3234.8 1404.2,3236.0 C1403.3,3237.1 1403.7,3226.9 1403.5,3220.2 C1403.2,3213.5 1403.1,3202.9 1402.8,3195.6 C1402.5,3188.3 1401.9,3181.4 1401.5,3176.2 C1401.1,3171.0 1399.6,3165.2 1400.2,3164.6Z" fill="#EBD39F"/>
<g fill="none" stroke="#fff" stroke-width="3.9" stroke-linecap="round" stroke-linejoin="round">
<path d="M1086.8,2958.2 C1082.5,2959.3 1071.7,2963.1 1061.0,2964.7 C1050.2,2966.3 1036.2,2967.7 1022.1,2967.9 C1008.1,2968.1 986.0,2966.8 976.9,2966.0 C967.7,2965.2 974.8,2962.0 967.2,2963.1 C959.5,2964.1 944.7,2968.6 930.9,2972.4 C917.1,2976.3 899.9,2981.3 884.4,2986.4 C868.8,2991.4 846.7,2999.3 837.8,3002.7 C828.9,3006.0 836.5,3002.8 830.7,3006.4 C824.9,3010.0 813.3,3017.9 802.9,3024.2 C792.4,3030.5 777.4,3038.7 767.9,3044.1 C758.5,3049.6 752.5,3052.6 746.0,3056.9 C739.4,3061.3 734.5,3064.8 728.5,3070.1 C722.4,3075.4 716.0,3081.7 709.7,3088.9 C703.5,3096.1 697.1,3105.2 691.0,3113.5 C684.8,3121.8 677.0,3131.7 672.9,3138.7 C668.8,3145.7 670.7,3146.8 666.4,3155.5 C662.1,3164.2 652.4,3179.8 647.0,3191.1 C641.6,3202.4 637.8,3212.6 634.0,3223.4 C630.3,3234.2 626.7,3245.0 624.3,3255.8 C622.0,3266.5 621.2,3280.6 619.8,3288.1 C618.4,3295.6 616.3,3292.4 615.9,3301.0 C615.6,3309.7 616.7,3325.8 617.9,3339.8 C619.1,3353.9 620.4,3372.2 623.1,3385.1 C625.7,3398.1 630.1,3407.8 634.0,3417.5 C638.0,3427.2 642.1,3435.8 647.0,3443.3 C651.8,3450.9 657.8,3455.7 663.2,3462.7 C668.5,3469.7 673.9,3480.2 679.3,3485.4 C684.7,3490.6 689.6,3489.5 695.5,3493.8 C701.4,3498.1 709.7,3507.6 714.9,3511.3 C720.1,3514.9 724.6,3515.0 726.5,3515.8"/>
<path d="M1086.8,2958.2 C1093.3,2960.6 1111.6,2968.1 1125.6,2972.4 C1139.7,2976.8 1156.9,2980.2 1170.9,2984.1 C1184.9,2988.0 1196.8,2990.9 1209.7,2995.7 C1222.7,3000.6 1237.8,3007.1 1248.5,3013.2 C1259.3,3019.3 1266.3,3025.6 1274.4,3032.6 C1282.5,3039.6 1289.0,3045.0 1297.1,3055.2 C1305.1,3065.5 1315.9,3080.6 1322.9,3094.0 C1329.9,3107.5 1334.2,3122.1 1339.1,3136.1 C1343.9,3150.1 1349.3,3164.7 1352.0,3178.1 C1354.7,3191.6 1354.7,3203.5 1355.3,3216.9 C1355.8,3230.4 1356.3,3247.1 1355.3,3259.0 C1354.2,3270.8 1350.6,3281.3 1348.8,3288.1 C1347.0,3294.9 1345.0,3297.8 1344.3,3299.7"/>
<path d="M508.2,3448.5 C509.7,3451.1 514.0,3457.9 517.6,3464.0 C521.2,3470.1 525.0,3478.4 529.9,3485.1 C534.9,3491.8 541.6,3497.9 547.4,3504.3 C553.2,3510.7 561.9,3520.3 564.8,3523.5"/>
<path d="M1242.1,3572.7 C1248.5,3568.4 1270.1,3553.8 1280.9,3546.8 C1291.7,3539.8 1302.4,3533.4 1306.8,3530.7"/>
</g>
</svg>
</body></html>
